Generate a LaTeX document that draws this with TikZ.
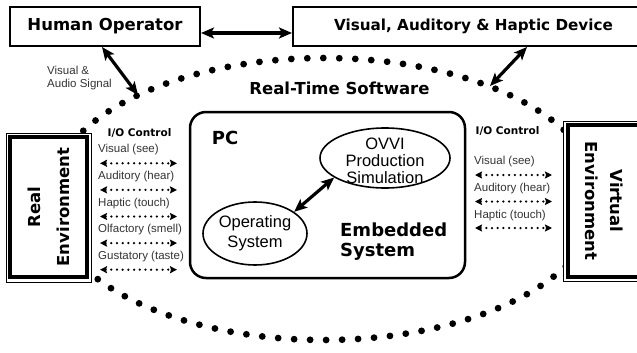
\documentclass[tikz,border=0pt]{standalone}
\usepackage{fontspec}
\setmainfont{Liberation Sans}
\newfontfamily\heavyfont{DejaVu Sans}
\usetikzlibrary{positioning, arrows.meta, shapes.geometric}

\begin{document}
\begin{tikzpicture}[x=1pt, y=-1pt,
    topbox/.style={draw, line width=2pt, fill=white, inner sep=0pt, minimum height=39pt},
    envframe/.style={draw, line width=0.9pt, fill=white, inner sep=0pt},
    envbox/.style={draw, line width=3.2pt, inner sep=0pt, align=center},
    blob/.style={ellipse, draw, line width=1.6pt, fill=white, inner sep=0pt},
    bigarrow/.style={{Stealth[length=13pt,width=11pt,inset=3pt]}-{Stealth[length=13pt,width=11pt,inset=3pt]}, line width=3.2pt},
    iolink/.style={{Stealth[length=7pt,width=7pt,inset=1pt]}-{Stealth[length=7pt,width=7pt,inset=1pt]}, line width=2.5pt, line cap=round, dash pattern=on 0pt off 5.7pt},
    dotring/.style={line width=6.8pt, line cap=round, dash pattern=on 0pt off 16pt},
    sense/.style={font=\fontsize{11.5}{13}\selectfont, text=black!80, anchor=west, inner sep=0pt, align=left},
    heavy/.style={font=\heavyfont\bfseries\fontsize{#1}{#1}\selectfont, inner sep=0pt}]
    \useasboundingbox (0,0) rectangle (637,353);
    \clip (0,0) rectangle (637,353);

    % real-time software ring
    \draw[dotring] (324,199) ellipse [x radius=275pt, y radius=141pt];
    \coordinate (ringL) at (138,95);
    \coordinate (ringR) at (490,86);

    \node[topbox, minimum width=190pt, heavy=16.5] (operator) at (105,26.5) {Human Operator};
    \node[topbox, minimum width=361pt, heavy=15.2] (device) at (473.5,26.5) {Visual, Auditory \& Haptic Device};
    \coordinate (opR) at ([yshift=-6.5pt]operator.east);
    \coordinate (devL) at ([yshift=-6.5pt]device.west);
    \draw[bigarrow] (opR) -- (devL);
    \draw[bigarrow] ([xshift=-3pt]operator.south) -- (ringL);
    \draw[bigarrow] ([xshift=53.5pt]device.south) -- (ringR);
    \node[sense] (signal) at (47,78.5) {Visual \&\\Audio Signal};
    \node[heavy=16.5] (rts) at (339.5,88) {Real-Time Software};

    % embedded PC
    \node[draw, line width=2.5pt, rounded corners=16pt, minimum width=275pt, minimum height=166pt] (pc) at (327.5,195) {};
    \node[heavy=18, below right=20pt and 23pt of pc.north west] (pclabel) {PC};
    \node[heavy=18, align=left, anchor=west, font=\heavyfont\bfseries\fontsize{18}{20}\selectfont] (embedded) at (340,242) {Embedded\\System};
    \node[blob, minimum width=130pt, minimum height=60pt] (ovvi) at (385,158) {};
    \node[align=center, font=\fontsize{16.5}{17}\selectfont] (ovvitext) at ([yshift=-3pt]ovvi.center) {OVVI\\Production\\Simulation};
    \node[blob, minimum width=104pt, minimum height=63pt] (os) at (255,233.5) {};
    \node[align=center, font=\fontsize{16.5}{20}\selectfont] (ostext) at (os) {Operating\\System};
    \draw[bigarrow] (os.29) -- (ovvi.201);

    % environments
    \node[envframe, minimum width=85pt, minimum height=149pt] (realframe) at (48.5,207.5) {};
    \node[envbox, rotate=90, minimum width=140pt, minimum height=77pt, font=\heavyfont\bfseries\fontsize{16.5}{29}\selectfont] (realenv) at (48.5,207) {Real\\Environment};
    \node[envframe, minimum width=83pt, minimum height=160pt] (virtframe) at (604.5,201) {};
    \node[envbox, rotate=-90, minimum width=152pt, minimum height=73pt, font=\heavyfont\bfseries\fontsize{16.5}{25}\selectfont] (virtenv) at (604.5,201) {Virtual\\Environment};

    % I/O channels
    \node[heavy=10.5] (ioL) at (139.5,133) {I/O Control};
    \node[heavy=10.5] (ioR) at (507.5,131) {I/O Control};
    \foreach \sense [count=\i from 0] in {{Visual (see)},{Auditory (hear)},{Haptic (touch)},{Olfactory (smell)},{Gustatory (taste)}} {
        \node[sense] (senseL\i) at (98,150+26.6*\i) {\sense};
        \coordinate (inL\i) at (100,163.3+26.6*\i);
        \coordinate (outL\i) at (177,163.3+26.6*\i);
        \draw[iolink] (inL\i) -- (outL\i);
    }
    \foreach \sense [count=\i from 0] in {{Visual (see)},{Auditory (hear)},{Haptic (touch)}} {
        \node[sense] (senseR\i) at (474,162+26.8*\i) {\sense};
        \coordinate (inR\i) at (475,175+26.5*\i);
        \coordinate (outR\i) at (552,175+26.5*\i);
        \draw[iolink] (inR\i) -- (outR\i);
    }
\end{tikzpicture}
\end{document}
